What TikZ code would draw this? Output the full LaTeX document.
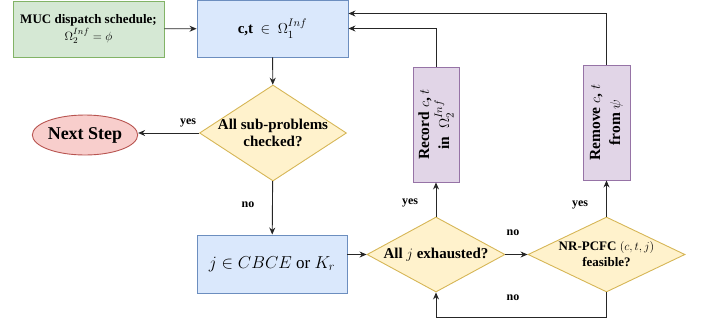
\documentclass[tikz,border=0pt]{standalone}
\usepackage{amsmath}
\usepackage{amssymb}
\usepackage{fontspec}
\setmainfont{Liberation Serif}
\usetikzlibrary{shapes.geometric,arrows.meta}

\definecolor{grfill}{HTML}{D5E8D4}
\definecolor{grline}{HTML}{82B366}
\definecolor{blfill}{HTML}{DAE8FC}
\definecolor{blline}{HTML}{6C8EBF}
\definecolor{yefill}{HTML}{FFF2CC}
\definecolor{yeline}{HTML}{D6B656}
\definecolor{rdfill}{HTML}{F8CECC}
\definecolor{rdline}{HTML}{B85450}
\definecolor{pufill}{HTML}{E1D5E7}
\definecolor{puline}{HTML}{9673A6}

\begin{document}
\begin{tikzpicture}[x=1pt, y=-1pt,
    box/.style={rectangle, draw, line width=0.9pt, align=center, inner sep=0pt},
    dia/.style={diamond, draw=yeline, fill=yefill, line width=0.9pt, align=center,
        inner sep=-6pt, font=\bfseries\fontsize{15}{17}\selectfont},
    arr/.style={-{Stealth[length=7pt,width=6pt]}, line width=0.9pt, black!85},
    lab/.style={font=\bfseries\fontsize{12}{14}\selectfont}]
\useasboundingbox (0,0) rectangle (702,325);

\node[box, draw=grline, fill=grfill, minimum width=151pt, minimum height=56pt,
    font=\bfseries\fontsize{13}{17}\selectfont] (muc) at (88.5,29)
    {MUC dispatch schedule;\\$\Omega_2^{Inf} = \phi$};
\node[box, draw=blline, fill=blfill, minimum width=151pt, minimum height=57pt,
    font=\fontsize{15}{18}\selectfont] (cset) at (272.5,28.5)
    {\textbf{c,t}~~$\in$~~$\Omega_1^{Inf}$};
\node[dia, aspect=1.5, minimum width=147pt, minimum height=96pt] (allsub) at (273,133)
    {All sub-problems\\checked?};
\node[ellipse, draw=rdline, fill=rdfill, line width=0.9pt, minimum width=90pt,
    minimum height=40pt, inner sep=0pt, font=\bfseries\fontsize{18}{20}\selectfont]
    (next) at (85,135) {Next Step};
\node[box, draw=blline, fill=blfill, minimum width=150pt, minimum height=58pt,
    font=\fontsize{17}{20}\selectfont] (jset) at (272,264)
    {$j \in CBCE$ or $K_r$};
\node[dia, aspect=2, minimum width=138pt, minimum height=75pt] (exh) at (436,254.5)
    {All $j$ exhausted?};
\node[dia, aspect=2, minimum width=157pt, minimum height=75pt,
    font=\bfseries\fontsize{13}{16}\selectfont] (feas) at (606.5,254.5)
    {NR-PCFC $(c,t,j)$\\feasible?};
\node[box, draw=puline, fill=pufill, rotate=90, minimum width=115pt, minimum height=46pt,
    font=\bfseries\fontsize{15.5}{20}\selectfont] (rec) at (436,124.5)
    {Record $c$, $t$\\in~~$\Omega_2^{Inf}$};
\node[box, draw=puline, fill=pufill, rotate=90, minimum width=115pt, minimum height=47pt,
    font=\bfseries\fontsize{15.5}{20}\selectfont] (rem) at (606.5,122.5)
    {Remove $c$, $t$\\from $\psi$};

\draw[arr] (muc) -- (cset);
\draw[arr] (cset) -- (allsub);
\draw[arr] (allsub.west) -- (next.east |- allsub.west);
\draw[arr] (allsub) -- (jset);
\draw[arr] (jset.east |- exh.west) -- (exh.west);
\draw[arr] (exh) -- (feas);
\draw[arr] (exh.north) -- (rec.west);
\draw[arr] (feas.north) -- (rem.west);
\draw[arr] (feas.south) -- ++(0,25) -| (exh.south);
\draw[arr] (rec.east) |- (cset.east);
\draw[arr] (rem.east) |- ([yshift=15pt]cset.east);

\node[lab] (y1) at (188,123) {yes};
\node[lab] (n1) at (248,205) {no};
\node[lab] (y2) at (410,203) {yes};
\node[lab] (n2) at (513,233) {no};
\node[lab] (y3) at (580,205) {yes};
\node[lab] (n3) at (513,298) {no};
\end{tikzpicture}
\end{document}
